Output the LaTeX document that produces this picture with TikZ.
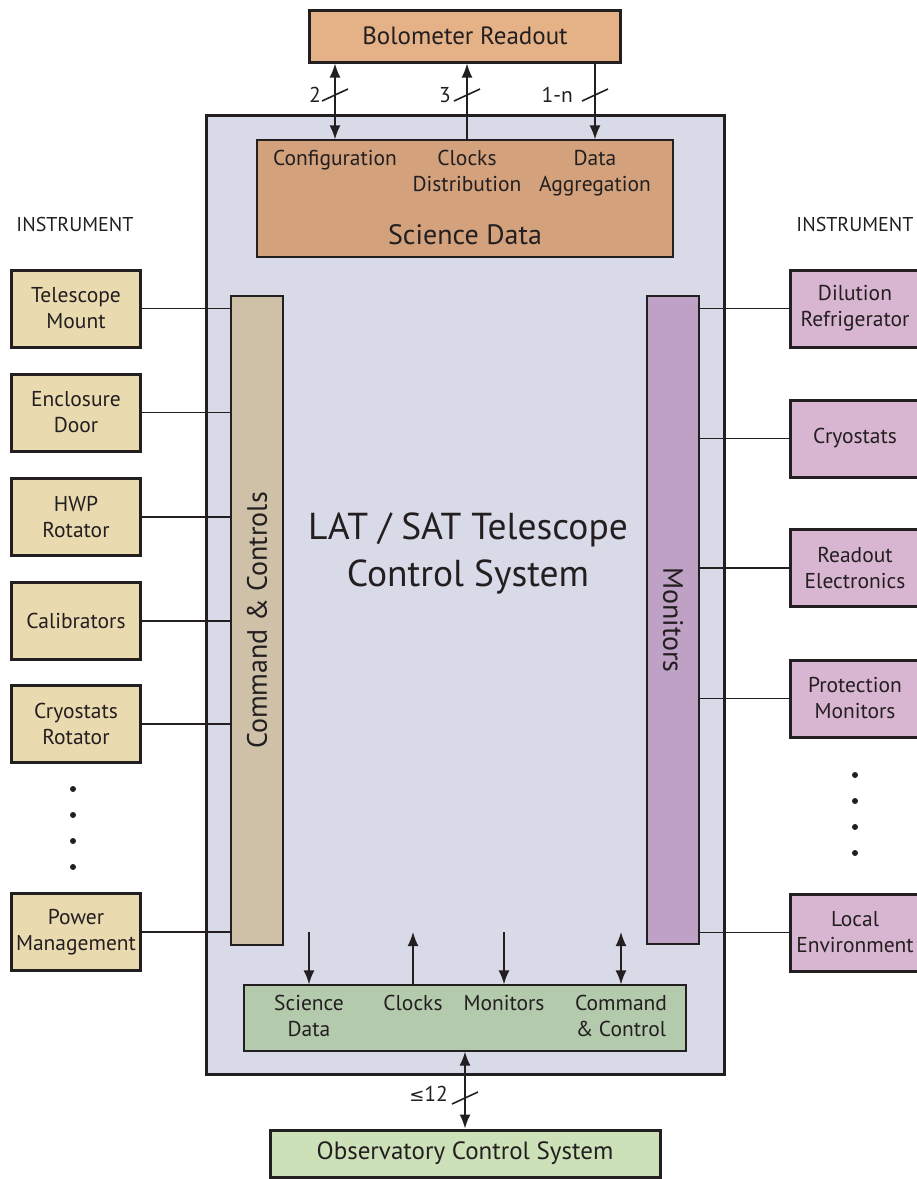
\documentclass[tikz,border=0pt]{standalone}
\usepackage{fontspec}
\setmainfont{PT Sans}
\newfontfamily\symf{DejaVu Sans}
\usetikzlibrary{arrows.meta,calc}
\definecolor{bolo}{HTML}{E5B187}
\definecolor{sci}{HTML}{D3A27D}
\definecolor{mainc}{HTML}{D9DAE8}
\definecolor{leftb}{HTML}{EADAB0}
\definecolor{cmdb}{HTML}{CFC1A8}
\definecolor{monb}{HTML}{BFA1C5}
\definecolor{rightb}{HTML}{D8B5D1}
\definecolor{grn}{HTML}{B3CAAC}
\definecolor{obs}{HTML}{CDE1B8}
\definecolor{ink}{HTML}{231F20}
\newcommand{\lblf}{\fontsize{21.5}{26}\selectfont}
\newcommand{\bigf}{\fontsize{25}{30}\selectfont}
\newcommand{\barf}{\fontsize{28}{32}\selectfont}
\newcommand{\hugef}{\fontsize{37.5}{47}\selectfont}
\tikzset{
  every node/.style={text=ink},
  thickbox/.style={draw=ink, line width=3pt, inner sep=0pt, align=center},
  thinbox/.style={draw=ink, line width=1.3pt, inner sep=0pt, align=center},
  inst/.style={thickbox, fill=leftb, minimum width=129pt, minimum height=77pt, font=\lblf},
  mon/.style={thickbox, fill=rightb, minimum width=129pt, minimum height=77pt, font=\lblf},
  conn/.style={draw=ink, line width=1.2pt},
  arr/.style={draw=ink, line width=1.6pt, -{Latex[length=14pt,width=11pt]}},
  darr/.style={draw=ink, line width=1.6pt, {Latex[length=14pt,width=11pt]}-{Latex[length=14pt,width=11pt]}},
  slash/.style={draw=ink, line width=1.6pt},
  lbl/.style={font=\lblf, align=center, inner sep=0pt},
  dotc/.style={fill=ink},
}
\begin{document}
\begin{tikzpicture}[x=1pt,y=-1pt]
\useasboundingbox (0,0) rectangle (917,1179);
% main box
\node[thickbox, fill=mainc, minimum width=518pt, minimum height=959pt] (main) at (465,594.5) {};
% top
\node[thickbox, fill=bolo, minimum width=311pt, minimum height=52pt, font=\bigf] (bolo) at (465,36) {Bolometer Readout};
\node[thinbox, fill=sci, minimum width=416pt, minimum height=117pt] (sci) at (465,198.5) {};
\node[lbl, anchor=north] (cfg) at (335,150) {Configuration};
\node[lbl, anchor=north] (clk) at (467,150) {Clocks\\Distribution};
\node[lbl, anchor=north] (dag) at (595,150) {Data\\Aggregation};
\node[font=\barf, inner sep=0pt] (scit) at (465,235) {Science Data};
\draw[darr] (cfg |- bolo.south) -- (cfg |- sci.north);
\draw[arr] (clk |- sci.north) -- (clk |- bolo.south);
\draw[arr] (dag |- bolo.south) -- (dag |- sci.north);
\draw[slash] ($(cfg |- 0,95)+(-13,6)$) -- ++(26,-12);
\draw[slash] ($(clk |- 0,95)+(-13,6)$) -- ++(26,-12);
\draw[slash] ($(dag |- 0,95)+(-13,6)$) -- ++(26,-12);
\node[lbl, anchor=east] (n2) at (321,95) {2};
\node[lbl, anchor=east] (n3) at (451,95) {3};
\node[lbl, anchor=east] (n1n) at (573,95) {1-n};
% headings
\node[font=\fontsize{20}{24}\selectfont, inner sep=0pt] (insl) at (75,224) {INSTRUMENT};
\node[font=\fontsize{20}{24}\selectfont, inner sep=0pt] (insr) at (855,224) {INSTRUMENT};
% bars
\node[thinbox, fill=cmdb, minimum width=52pt, minimum height=649pt] (cmd) at (257,620.5) {};
\node[font=\barf, rotate=90, inner sep=0pt] (cmdt) at (cmd.center) {Command \& Controls};
\node[thinbox, fill=monb, minimum width=52pt, minimum height=648pt] (monb) at (673,620) {};
\node[font=\barf, rotate=-90, inner sep=0pt] (mont) at (monb.center) {Monitors};
% center
\node[font=\hugef, align=center, inner sep=0pt] (title) at (468,553) {LAT / SAT Telescope\\Control System};
% left instruments
\node[inst] (tm) at (76,308.5) {Telescope\\Mount};
\node[inst] (ed) at (76,412.5) {Enclosure\\Door};
\node[inst] (hwp) at (76,517) {HWP\\Rotator};
\node[inst] (cal) at (76,621) {Calibrators};
\node[inst] (cr) at (76,724) {Cryostats\\Rotator};
\node[inst] (pm) at (76,932) {Power\\Management};
\foreach \n in {tm,ed,hwp,cal,cr,pm} \draw[conn] (\n.east) -- (\n.east -| cmd.west);
\foreach \y in {789,815,841,867} \fill[dotc] (73,\y) circle (3pt);
% right instruments
\node[mon] (dr) at (855,308.5) {Dilution\\Refrigerator};
\node[mon] (cry) at (855,438.5) {Cryostats};
\node[mon] (re) at (855,568) {Readout\\Electronics};
\node[mon] (prm) at (855,698.5) {Protection\\Monitors};
\node[mon] (le) at (855,932.5) {Local\\Environment};
\foreach \n in {dr,cry,re,prm,le} \draw[conn] (\n.west) -- (\n.west -| monb.east);
\foreach \y in {775,801,827,853} \fill[dotc] (855,\y) circle (3pt);
% bottom interface
\node[thinbox, fill=grn, minimum width=442pt, minimum height=66pt] (grnb) at (465,1018) {};
\node[lbl, anchor=north] (bsd) at (309,995) {Science\\Data};
\node[lbl, anchor=north] (bclk) at (413,995) {Clocks};
\node[lbl, anchor=north] (bmon) at (504,995) {Monitors};
\node[lbl, anchor=north] (bcc) at (621,995) {Command\\\& Control};
\coordinate (btop) at (0,932);
\draw[arr] (bsd |- btop) -- (bsd |- grnb.north);
\draw[arr] (bclk |- grnb.north) -- (bclk |- btop);
\draw[arr] (bmon |- btop) -- (bmon |- grnb.north);
\draw[darr] (bcc |- btop) -- (bcc |- grnb.north);
% observatory
\node[thickbox, fill=obs, minimum width=390pt, minimum height=47pt, font=\bigf] (obsb) at (465,1153.5) {Observatory Control System};
\draw[darr] (grnb.south) -- (obsb.north);
\draw[slash] ($(grnb.south |- 0,1098)+(-13,6)$) -- ++(26,-12);
\node[lbl, anchor=east] (n12) at (448,1094) {{\symf\fontsize{18}{20}\selectfont ≤}12};
\end{tikzpicture}
\end{document}
